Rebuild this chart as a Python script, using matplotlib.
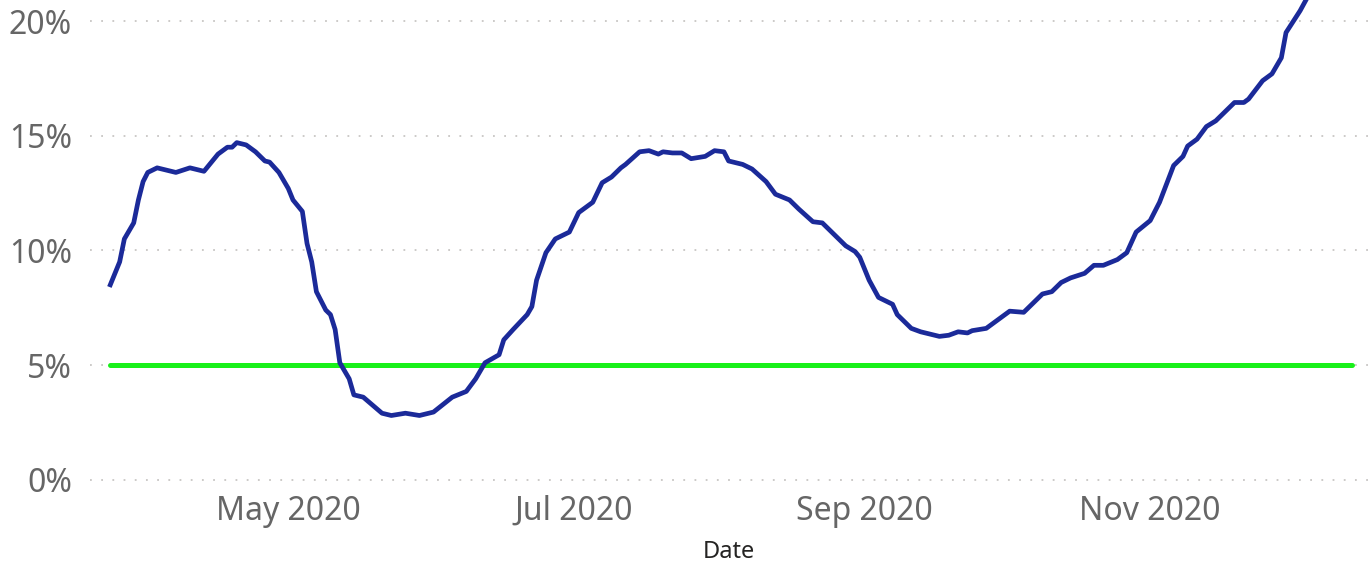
import matplotlib
matplotlib.use("Agg")
import matplotlib.pyplot as plt
import matplotlib.dates as mdates
from matplotlib.ticker import FuncFormatter
import pandas as pd

# rate values (percent)
dates = ["2020-03-24", "2020-03-26", "2020-03-27", "2020-03-29", "2020-03-30", "2020-03-31",
         "2020-04-01", "2020-04-03", "2020-04-05", "2020-04-07", "2020-04-10", "2020-04-13",
         "2020-04-14", "2020-04-16", "2020-04-18", "2020-04-19", "2020-04-20", "2020-04-22",
         "2020-04-24", "2020-04-26", "2020-04-27", "2020-04-29", "2020-05-01", "2020-05-02",
         "2020-05-04", "2020-05-05", "2020-05-06", "2020-05-07", "2020-05-08", "2020-05-09",
         "2020-05-10", "2020-05-11", "2020-05-12", "2020-05-14", "2020-05-15", "2020-05-17",
         "2020-05-21", "2020-05-23", "2020-05-26", "2020-05-29", "2020-06-01", "2020-06-05",
         "2020-06-08", "2020-06-10", "2020-06-12", "2020-06-15", "2020-06-16", "2020-06-18",
         "2020-06-21", "2020-06-22", "2020-06-23", "2020-06-25", "2020-06-27", "2020-06-30",
         "2020-07-02", "2020-07-05", "2020-07-07", "2020-07-09", "2020-07-11", "2020-07-12",
         "2020-07-15", "2020-07-17", "2020-07-19", "2020-07-20", "2020-07-22", "2020-07-24",
         "2020-07-26", "2020-07-29", "2020-07-31", "2020-08-02", "2020-08-03", "2020-08-06",
         "2020-08-08", "2020-08-11", "2020-08-13", "2020-08-16", "2020-08-18", "2020-08-21",
         "2020-08-23", "2020-08-25", "2020-08-28", "2020-08-30", "2020-08-31", "2020-09-02",
         "2020-09-04", "2020-09-07", "2020-09-08", "2020-09-11", "2020-09-13", "2020-09-17",
         "2020-09-19", "2020-09-21", "2020-09-23", "2020-09-24", "2020-09-27", "2020-09-30",
         "2020-10-02", "2020-10-05", "2020-10-07", "2020-10-09", "2020-10-11", "2020-10-13",
         "2020-10-15", "2020-10-18", "2020-10-20", "2020-10-22", "2020-10-25", "2020-10-27",
         "2020-10-29", "2020-11-01", "2020-11-03", "2020-11-06", "2020-11-08", "2020-11-09",
         "2020-11-11", "2020-11-13", "2020-11-15", "2020-11-19", "2020-11-21", "2020-11-22",
         "2020-11-25", "2020-11-27", "2020-11-29", "2020-11-30", "2020-12-03", "2020-12-05"]
rate = [8.5, 9.5, 10.5, 11.2, 12.2, 13.0,
        13.4, 13.6, 13.5, 13.4, 13.6, 13.45,
        13.7, 14.2, 14.5, 14.5, 14.7, 14.6,
        14.3, 13.9, 13.85, 13.4, 12.7, 12.2,
        11.7, 10.3, 9.5, 8.2, 7.8, 7.4,
        7.2, 6.55, 5.1, 4.4, 3.7, 3.6,
        2.9, 2.8, 2.9, 2.8, 2.95, 3.6,
        3.85, 4.4, 5.1, 5.45, 6.1, 6.55,
        7.2, 7.55, 8.7, 9.9, 10.5, 10.8,
        11.65, 12.1, 12.95, 13.2, 13.6, 13.75,
        14.3, 14.35, 14.2, 14.3, 14.25, 14.25,
        14.0, 14.1, 14.35, 14.3, 13.9, 13.75,
        13.55, 13.0, 12.45, 12.2, 11.8, 11.25,
        11.2, 10.8, 10.2, 9.95, 9.7, 8.7,
        7.95, 7.65, 7.2, 6.6, 6.45, 6.25,
        6.3, 6.45, 6.4, 6.5, 6.6, 7.05,
        7.35, 7.3, 7.7, 8.1, 8.2, 8.6,
        8.8, 9.0, 9.35, 9.35, 9.6, 9.9,
        10.8, 11.3, 12.1, 13.7, 14.1, 14.55,
        14.85, 15.4, 15.65, 16.45, 16.45, 16.6,
        17.4, 17.7, 18.4, 19.5, 20.45, 21.2]

target_dates = ["2020-03-24", "2020-12-14"]
target = [5, 5]

x = pd.to_datetime(dates)
xt = pd.to_datetime(target_dates)

plt.rcParams['font.family'] = ['Noto Sans', 'DejaVu Sans']

fig = plt.figure(figsize=(13.68, 5.65), dpi=100)
ax = fig.add_axes([90 / 1368, 83 / 565, 1 - 90 / 1368, 482 / 565])

ax.plot(xt, target, color='#19F01A', lw=3.6, solid_capstyle='round', zorder=3)
ax.plot(x, rate, color='#1B2A99', lw=3.4, solid_joinstyle='round', zorder=4)

ax.set_ylim(-0.1, 20.92)
ax.set_xlim(pd.Timestamp("2020-03-19 16:00"), pd.Timestamp("2020-12-17 12:00"))
ax.set_yticks([0, 5, 10, 15, 20])
ax.yaxis.set_major_formatter(FuncFormatter(lambda v, p: f"{v:.0f}%"))
ax.xaxis.set_major_locator(mdates.MonthLocator(bymonth=[5, 7, 9, 11]))
ax.xaxis.set_major_formatter(mdates.DateFormatter('%b %Y'))

ax.grid(axis='y', color='#C8C6C4', lw=1.3, linestyle=(0, (1, 5.2)))
ax.set_axisbelow(True)
for s in ax.spines.values():
    s.set_visible(False)
ax.tick_params(axis='both', length=0, labelsize=23, labelcolor='#666666')
ax.tick_params(axis='y', pad=13)
ax.tick_params(axis='x', pad=9)

ax.set_xlabel('Date', fontsize=17, color='#252423', fontweight='semibold', labelpad=9)

fig.savefig('out.png', dpi=100)
